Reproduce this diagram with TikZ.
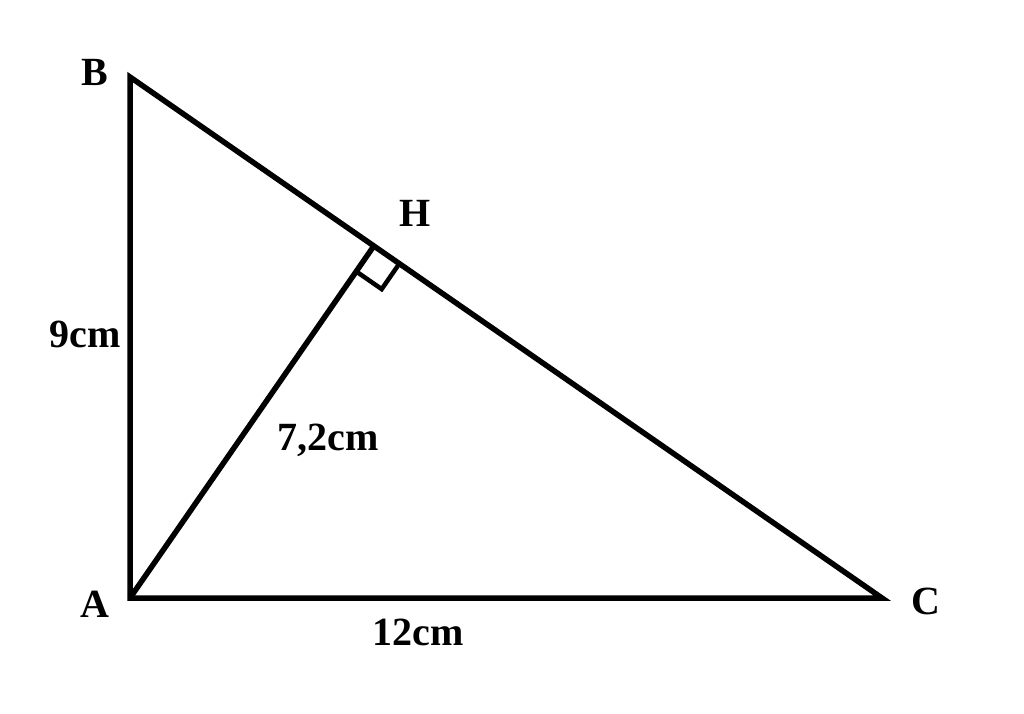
\documentclass[tikz,border=0pt]{standalone}
\usepackage{fontspec}
\setmainfont{Liberation Serif}
\usetikzlibrary{calc}

\begin{document}
\begin{tikzpicture}[x=1pt,y=-1pt,
	edge/.style={line width=5.5pt,line join=miter},
	lbl/.style={inner sep=0pt,anchor=base,font=\fontsize{40}{42}\selectfont\bfseries}]
	\useasboundingbox[fill=white] (0,0) rectangle (1024,713);
	\pgfmathsetmacro\MARK{31}
	\coordinate (A) at (130,598);
	\coordinate (B) at (130,77);
	\coordinate (C) at (882,598);
	\coordinate (H) at ($(B)!(A)!(C)$);
	\coordinate (HA) at ($(H)!\MARK pt!(A)$);
	\coordinate (HC) at ($(H)!\MARK pt!(C)$);
	\coordinate (HM) at ($(HA)+(HC)-(H)$);
	
	\draw[edge] (A) -- (B) -- (C) -- cycle;
	\draw[edge] (A) -- (H);
	\draw[line width=4.5pt] (HA) -- (HM) -- (HC);
	
	\node[lbl] (labB) at (95,85) {B};
	\node[lbl] (labH) at (415,226) {H};
	\node[lbl] (labA) at (95,617) {A};
	\node[lbl] (labC) at (926,614) {C};
	\node[lbl] (labAB) at (85,347) {9cm};
	\node[lbl] (labAH) at (328,450) {7,2cm};
	\node[lbl] (labAC) at (418,645) {12cm};
\end{tikzpicture}
\end{document}
